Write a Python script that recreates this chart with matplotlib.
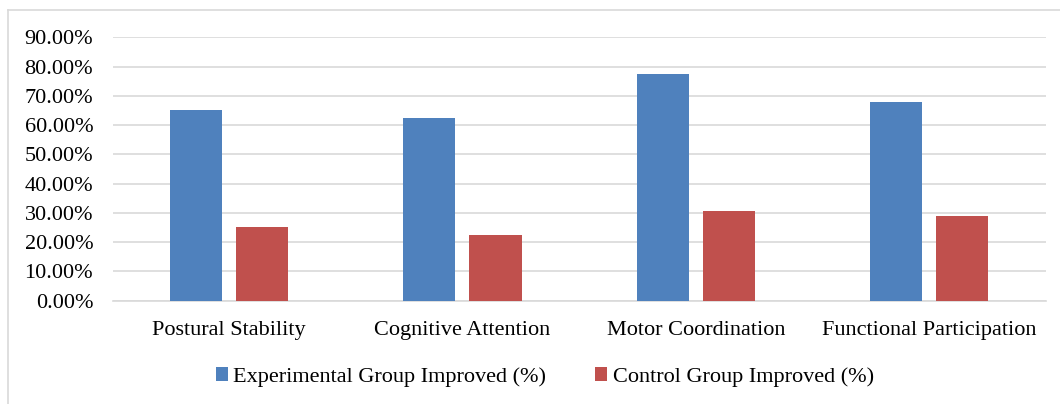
import matplotlib.pyplot as plt
import matplotlib.lines as mlines
import numpy as np
from matplotlib.ticker import FuncFormatter

categories = ["Postural Stability", "Cognitive Attention", "Motor Coordination", "Functional Participation"]
experimental = [65.2, 62.5, 77.4, 67.9]
control = [25.1, 22.5, 30.5, 29.0]
series_names = ["Experimental Group Improved (%)", "Control Group Improved (%)"]

blue = "#4F81BD"
red = "#C0504D"
grid = "#d9d9d9"
fs = 16

plt.rcParams['font.family'] = ['Liberation Serif', 'DejaVu Serif']
plt.rcParams['font.size'] = fs

fig = plt.figure(figsize=(10.6, 4.04), dpi=100)
ax = fig.add_axes([0.1062, 0.2557, 0.8803, 0.652])

x = np.arange(len(categories))
w = 0.224
off = w / 2 + 0.03
ax.bar(x - off, experimental, w, color=blue, label=series_names[0], zorder=3)
ax.bar(x + off, control, w, color=red, label=series_names[1], zorder=3)

ax.set_xlim(-0.5, len(categories) - 0.5)
ax.set_ylim(0, 90)
ax.set_yticks(np.arange(0, 91, 10))
ax.yaxis.set_major_formatter(FuncFormatter(lambda v, p: "{:.2f}%".format(v)))
ax.set_xticks(x)
ax.set_xticklabels(categories)
ax.grid(axis='y', color=grid, linewidth=1.2, zorder=0)
for s in ['top', 'right', 'left']:
    ax.spines[s].set_visible(False)
ax.spines['bottom'].set_color(grid)
ax.spines['bottom'].set_linewidth(1.2)
ax.tick_params(axis='both', length=0, labelsize=fs, colors='black')
ax.tick_params(axis='y', pad=14)
ax.tick_params(axis='x', pad=14.5)

fig.legend(loc='center', bbox_to_anchor=(0.514, 0.067), ncol=2, frameon=False,
           handlelength=0.55, handleheight=0.55, handletextpad=0.25, columnspacing=2.2,
           fontsize=fs)

# chart border (left and top only visible)
fig.add_artist(mlines.Line2D([7.5 / 1060, 7.5 / 1060], [0, 1 - 10 / 404], color=grid, lw=1.2))
fig.add_artist(mlines.Line2D([7.5 / 1060, 1], [1 - 10 / 404, 1 - 10 / 404], color=grid, lw=1.2))

fig.savefig("out.png", dpi=100)
